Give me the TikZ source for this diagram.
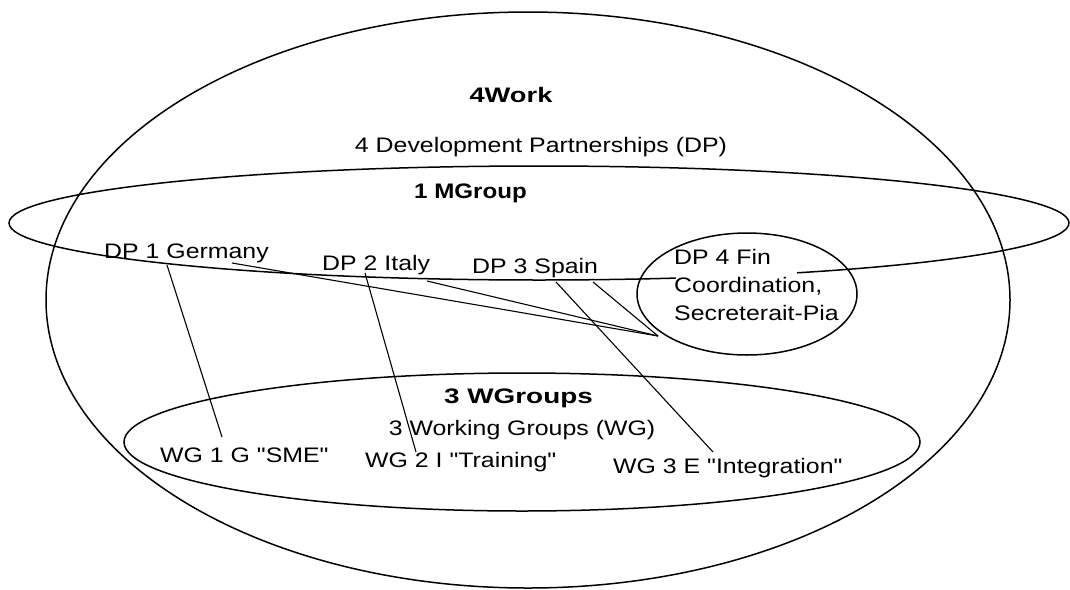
\documentclass[tikz,border=0pt]{standalone}
\usepackage{fontspec}
\setmainfont{Liberation Sans}[FakeStretch=1.185,Ligatures=TeXOff]
\usetikzlibrary{shapes.geometric,calc}
\begin{document}
\begin{tikzpicture}[x=1pt,y=-1pt,
  ring/.style={draw, ellipse, line width=1.5pt, inner sep=0pt},
  lbl/.style={inner sep=0pt, font=\fontsize{21}{28}\selectfont},
  title/.style={inner sep=0pt, font=\fontsize{21}{28}\selectfont\bfseries},
  link/.style={line width=1.1pt}]
\useasboundingbox (0,0) rectangle (1070,589);
\fill[white] (0,0) rectangle (1070,589);

% the three group rings
\node[ring, minimum width=964pt, minimum height=576pt] (work) at (528,300) {};
\node[ring, minimum width=1060pt, minimum height=114pt] (mgroup) at (539,223) {};
\node[ring, minimum width=796pt, minimum height=138pt] (wgroups) at (522,442) {};

% text box of DP 4 hides part of the MGroup ring
\fill[white] (676,271) rectangle (797,289);
\node[ring, minimum width=220pt, minimum height=122pt] (dp4) at (747,294) {};

% headings
\node[title, anchor=base] (t4work) at (511,102) {\scalebox{1.096}[1]{4Work}};
\node[lbl, anchor=base] (tdp) at (541,152) {4 Development Partnerships (DP)};
\node[title, anchor=base] (tmgroup) at (470.5,198) {\scalebox{0.97}[1]{1 MGroup}};
\node[title, anchor=base] (twgroups) at (518.5,403) {\scalebox{1.12}[1]{3 WGroups}};
\node[lbl, anchor=base] (twg) at (522,435) {3 Working Groups (WG)};

% partnerships
\node[lbl, anchor=base west] (dp1) at (104,258) {DP 1 Germany};
\node[lbl, anchor=base west] (dp2) at (322,270) {DP 2 Italy};
\node[lbl, anchor=base west] (dp3) at (472,273) {DP 3 Spain};
\node[lbl, anchor=base west] (dp4a) at (674,264) {DP 4 Fin};
\node[lbl, anchor=base west] (dp4b) at (674,292) {Coordination,};
\node[lbl, anchor=base west] (dp4c) at (674,320) {Secreterait-Pia};

% working groups
\node[lbl, anchor=base west] (wg1) at (160,462) {WG 1 G "SME"};
\node[lbl, anchor=base west] (wg2) at (365,467) {WG 2 I "Training"};
\node[lbl, anchor=base west] (wg3) at (613,473) {WG 3 E "Integration"};

% meeting point on the DP 4 ring
\coordinate (hub) at ($(dp4.center)+(-89,42)$);

% links
\draw[link] ($(dp1.base west)+(63,7)$) -- ($(wg1.base west)+(62,-25)$);
\draw[link] ($(dp1.base west)+(128,5)$) -- (hub);
\draw[link] ($(dp2.base west)+(43,3)$) -- ($(wg2.base west)+(51,-15)$);
\draw[link] ($(dp2.base west)+(105,11)$) -- (hub);
\draw[link] ($(dp3.base west)+(84,9)$) -- ($(wg3.base west)+(100,-21)$);
\draw[link] ($(dp3.base west)+(121,9)$) -- (hub);
\end{tikzpicture}
\end{document}
